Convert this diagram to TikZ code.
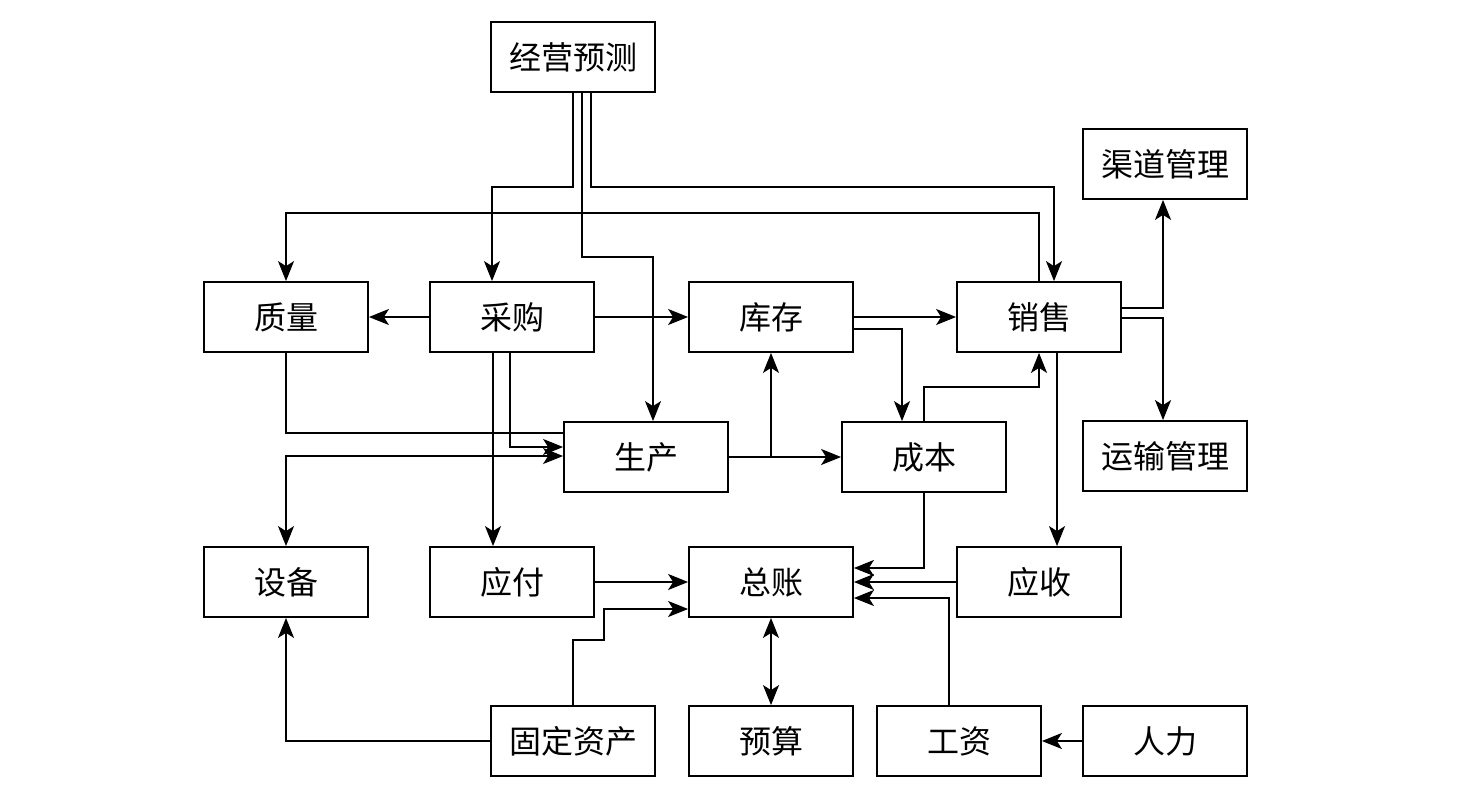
\documentclass[tikz,border=0pt]{standalone}
\usepackage{fontspec}
\newfontfamily\cjk{Noto Sans CJK SC}
\usetikzlibrary{arrows.meta,calc}
\tikzset{
  box/.style={draw, line width=1.8pt, minimum width=164pt, minimum height=70pt, inner sep=0pt, font=\cjk\fontsize{32}{32}\selectfont},
  conn/.style={line width=1.8pt},
  tip/.tip={Stealth[length=20pt,width=16pt,inset=5pt]},
  arr/.style={conn, -tip},
  darr/.style={conn, tip-tip}
}
\begin{document}
\begin{tikzpicture}[x=1pt,y=-1pt]
\useasboundingbox (0,0) rectangle (1467,795);
\node[box] (jy) at (573,57) {经营预测};
\node[box] (qd) at (1165,164) {渠道管理};
\node[box] (zl) at (286,317) {质量};
\node[box] (cg) at (512,317) {采购};
\node[box] (kc) at (771,317) {库存};
\node[box] (xs) at (1039,317) {销售};
\node[box] (sc) at (646,457) {生产};
\node[box] (cb) at (924,457) {成本};
\node[box] (ys) at (1165,456) {运输管理};
\node[box] (sb) at (286,582) {设备};
\node[box] (yf) at (512,582) {应付};
\node[box] (zz) at (771,582) {总账};
\node[box] (ysh) at (1039,582) {应收};
\node[box] (gd) at (573,741) {固定资产};
\node[box] (yus) at (771,741) {预算};
\node[box] (gz) at (959,741) {工资};
\node[box] (rl) at (1165,741) {人力};

% from 经营预测
\draw[arr] (jy.south) -- (573,187) -| ([xshift=-20pt]cg.north);
\draw[arr] ([xshift=9pt]jy.south) -- (582,257) -| ([xshift=7pt]sc.north);
\draw[arr] ([xshift=18pt]jy.south) -- (591,187) -| ([xshift=15pt]xs.north);
% 销售 -> 质量
\draw[arr] (xs.north) -- (1039,213) -| (zl.north);
% 采购
\draw[arr] (cg.west) -- (zl.east);
\draw[arr] (cg.east) -- (kc.west);
\draw[arr] ([xshift=-19pt]cg.south) -- ([xshift=-19pt]yf.north);
\draw[arr] ([xshift=-2pt]cg.south) |- ([yshift=10pt]sc.west);
% 质量 -> 生产
\draw[conn] (zl.south) |- ([yshift=24pt]sc.west);
% 设备 <-> 生产
\draw[darr] (sb.north) |- ([yshift=1pt]sc.west);
% 库存
\draw[arr] (kc.east) -- (xs.west);
\draw[arr] ([yshift=-12pt]kc.east) -| ([xshift=-22pt]cb.north);
% 销售 right
\draw[arr] ([yshift=9pt]xs.east) -| ([xshift=-2pt]qd.south);
\draw[arr] ([yshift=-1pt]xs.east) -| ([xshift=-2pt]ys.north);
% 成本 -> 销售
\draw[arr] (cb.north) -- (924,387) -| (xs.south);
% 销售 -> 应收
\draw[arr] ([xshift=18pt]xs.south) -- ([xshift=18pt]ysh.north);
% 生产
\draw[arr] (sc.east) -- (cb.west);
\draw[arr] (sc.east -| kc.south) -- (kc.south);
% into 总账
\draw[arr] (cb.south) |- ([yshift=14pt]zz.east);
\draw[arr] (yf.east) -- (zz.west);
\draw[arr] (ysh.west) -- (zz.east);
\draw[arr] ([xshift=-10pt]gz.north) |- ([yshift=-16pt]zz.east);
\draw[arr] (gd.north) -- (573,640) -- (604,640) -- (604,609) -- ([yshift=-27pt]zz.west);
\draw[darr] (zz.south) -- (yus.north);
% others
\draw[arr] (gd.west) -| (sb.south);
\draw[arr] (rl.west) -- (gz.east);
\end{tikzpicture}
\end{document}
